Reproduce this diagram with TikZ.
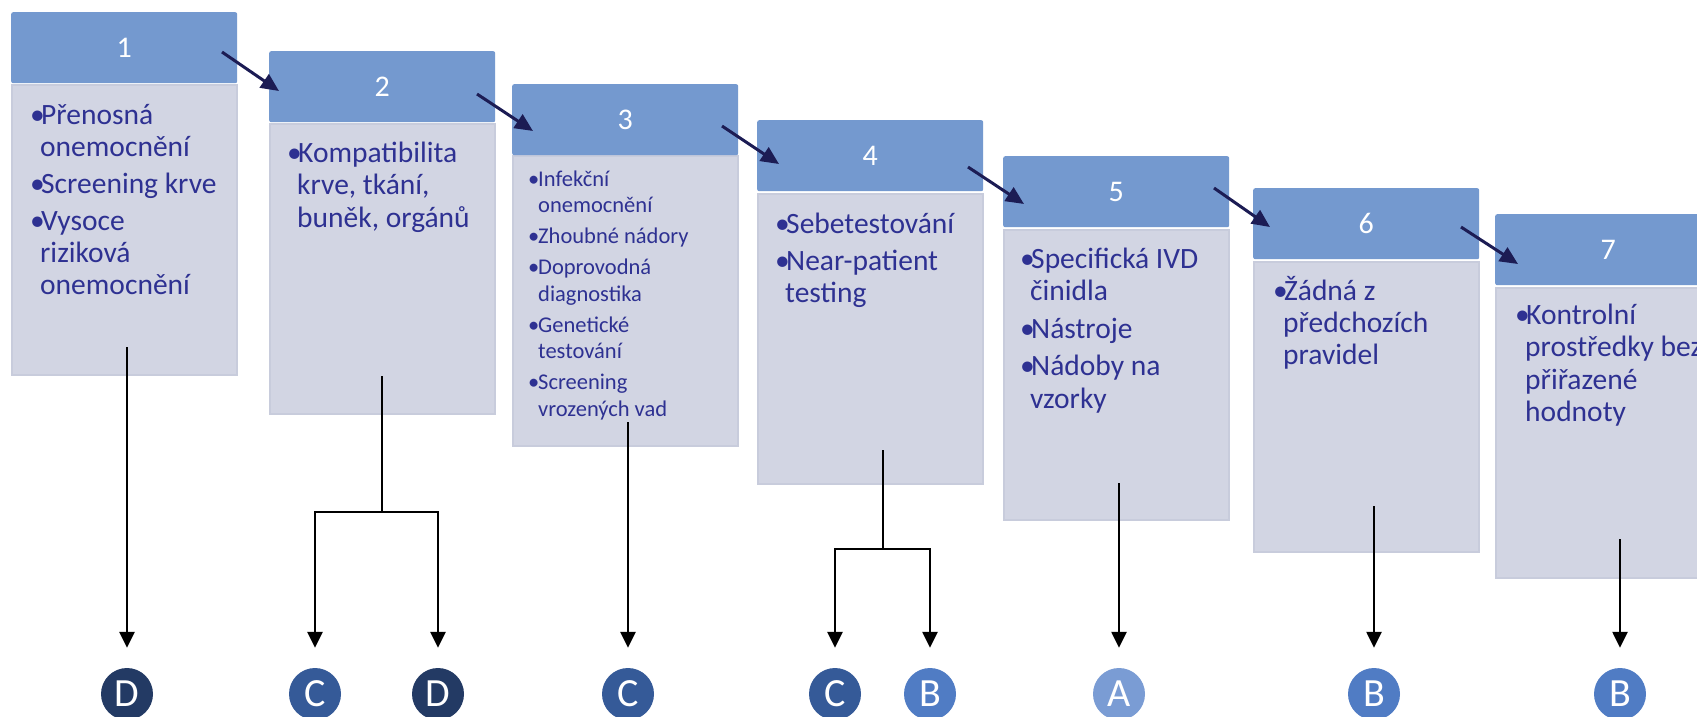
\documentclass[tikz,border=0pt]{standalone}
\usepackage{fontspec}
\setmainfont{Carlito}
\usetikzlibrary{arrows.meta}
\definecolor{hdr}{RGB}{116,153,207}
\definecolor{bod}{RGB}{210,213,227}
\definecolor{bodline}{RGB}{200,204,220}
\definecolor{txt}{RGB}{46,49,146}
\definecolor{navy}{RGB}{28,28,84}
\definecolor{cD}{RGB}{35,58,100}
\definecolor{cC}{RGB}{53,90,152}
\definecolor{cB}{RGB}{80,124,196}
\definecolor{cA}{RGB}{122,156,212}
\newcommand{\bitem}[1]{\hbox{\makebox[11pt][l]{•}#1}}
\newcommand{\sitem}[1]{\hbox{\makebox[10pt][l]{•}#1}}
\newcommand{\cont}[1]{\hbox{\hspace*{10pt}#1}}
\newcommand{\igap}{\vskip 5pt}
\begin{document}
\begin{tikzpicture}[x=1pt,y=-1pt,
  hdrbox/.style={fill=hdr, draw=none, rounded corners=2pt, anchor=north west,
    minimum width=226pt, minimum height=71pt, inner sep=0pt, text=white,
    font=\fontsize{30}{30}\selectfont},
  bodbox/.style={fill=bod, draw=bodline, line width=1.5pt, anchor=north west,
    minimum width=225pt, minimum height=290pt, inner sep=0pt},
  txtnode/.style={anchor=base west, inner sep=0pt, text=txt,
    font=\fontsize{29.5}{32}\selectfont},
  smalltxt/.style={anchor=base west, inner sep=0pt, text=txt,
    font=\fontsize{22.5}{27}\selectfont},
  grade/.style={circle, minimum size=52pt, inner sep=0pt, text=white,
    font=\fontsize{40}{40}\selectfont},
  stem/.style={draw=black, line width=2.5pt},
  vconn/.style={draw=black, line width=2.5pt, shorten >=20pt,
    -{Triangle[length=16pt,width=15pt]}},
  darr/.style={draw=navy, line width=3pt,
    -{Triangle[length=18pt,width=16pt]}}
]
\useasboundingbox (0,0) rectangle (1697,716);
\fill[white] (0,0) rectangle (1697,716);
\clip (0,0) rectangle (1697,716);

% bodies
\node[bodbox] (b1) at (11,84) {};
\node[bodbox] (b2) at (269,123) {};
\node[bodbox] (b3) at (512,155) {};
\node[bodbox] (b4) at (757,193) {};
\node[bodbox] (b5) at (1003,229) {};
\node[bodbox] (b6) at (1253,261) {};
\node[bodbox] (b7) at (1495,287) {};

% headers
\node[hdrbox] (h1) at (11,12) {1};
\node[hdrbox] (h2) at (269,51) {2};
\node[hdrbox] (h3) at (512,84) {3};
\node[hdrbox] (h4) at (757,120) {4};
\node[hdrbox] (h5) at (1003,156) {5};
\node[hdrbox] (h6) at (1253,188) {6};
\node[hdrbox] (h7) at (1495,214) {7};

% texts
\node[txtnode] (t1) at (30,124) {\vtop{\baselineskip=32pt
  \bitem{Přenosná}\cont{onemocnění}\igap
  \bitem{Screening krve}\igap
  \bitem{Vysoce}\cont{riziková}\cont{onemocnění}}};
\node[txtnode] (t2) at (287,162) {\vtop{\baselineskip=32.5pt
  \bitem{Kompatibilita}\cont{krve, tkání,}\cont{buněk, orgánů}}};
\node[smalltxt] (t3) at (528,186) {\vtop{\baselineskip=26.8pt
  \sitem{Infekční}\cont{onemocnění}\vskip 4pt
  \sitem{Zhoubné nádory}\vskip 4pt
  \sitem{Doprovodná}\cont{diagnostika}\vskip 4pt
  \sitem{Genetické}\cont{testování}\vskip 4pt
  \sitem{Screening}\cont{vrozených vad}}};
\node[txtnode] (t4) at (775,233) {\vtop{\baselineskip=32pt
  \bitem{Sebetestování}\igap
  \bitem{Near-patient}\cont{testing}}};
\node[txtnode] (t5) at (1020,268) {\vtop{\baselineskip=32.5pt
  \bitem{Specifická IVD}\cont{činidla}\igap
  \bitem{Nástroje}\igap
  \bitem{Nádoby na}\cont{vzorky}}};
\node[txtnode] (t6) at (1273,300) {\vtop{\baselineskip=32pt
  \bitem{Žádná z}\cont{předchozích}\cont{pravidel}}};
\node[txtnode] (t7) at (1515,324) {\vtop{\baselineskip=32.5pt
  \bitem{Kontrolní}\cont{prostředky bez}\cont{přiřazené}\cont{hodnoty}}};

% grade circles
\node[grade, fill=cD] (c1) at (127,694) {D};
\node[grade, fill=cC] (c2a) at (315,694) {C};
\node[grade, fill=cD] (c2b) at (438,694) {D};
\node[grade, fill=cC] (c3) at (628,694) {C};
\node[grade, fill=cC] (c4a) at (835,694) {C};
\node[grade, fill=cB] (c4b) at (930,694) {B};
\node[grade, fill=cA] (c5) at (1119,694) {A};
\node[grade, fill=cB] (c6) at (1374,694) {B};
\node[grade, fill=cB] (c7) at (1620,694) {B};

% stem coordinates
\coordinate (s1) at (127,347);
\coordinate (s2) at (382,376);
\coordinate (j2) at (382,512);
\coordinate (s3) at (628,422);
\coordinate (s4) at (883,450);
\coordinate (j4) at (883,549);
\coordinate (s5) at (1119,483);
\coordinate (s6) at (1374,506);
\coordinate (s7) at (1620,539);

\draw[vconn] (s1) -- (c1);
\draw[stem] (s2) -- (j2);
\draw[vconn] (j2) -| (c2a);
\draw[vconn] (j2) -| (c2b);
\draw[vconn] (s3) -- (c3);
\draw[stem] (s4) -- (j4);
\draw[vconn] (j4) -| (c4a);
\draw[vconn] (j4) -| (c4b);
\draw[vconn] (s5) -- (c5);
\draw[vconn] (s6) -- (c6);
\draw[vconn] (s7) -- (c7);

% diagonal arrows between headers
\coordinate (a1s) at (222,52);   \coordinate (a1e) at (279,91);
\coordinate (a2s) at (477,94);   \coordinate (a2e) at (533,131);
\coordinate (a3s) at (722,126);  \coordinate (a3e) at (779,164);
\coordinate (a4s) at (968,167);  \coordinate (a4e) at (1024,204);
\coordinate (a5s) at (1214,188); \coordinate (a5e) at (1270,227);
\coordinate (a6s) at (1461,227); \coordinate (a6e) at (1518,264);
\draw[darr] (a1s) -- (a1e);
\draw[darr] (a2s) -- (a2e);
\draw[darr] (a3s) -- (a3e);
\draw[darr] (a4s) -- (a4e);
\draw[darr] (a5s) -- (a5e);
\draw[darr] (a6s) -- (a6e);
\end{tikzpicture}
\end{document}
